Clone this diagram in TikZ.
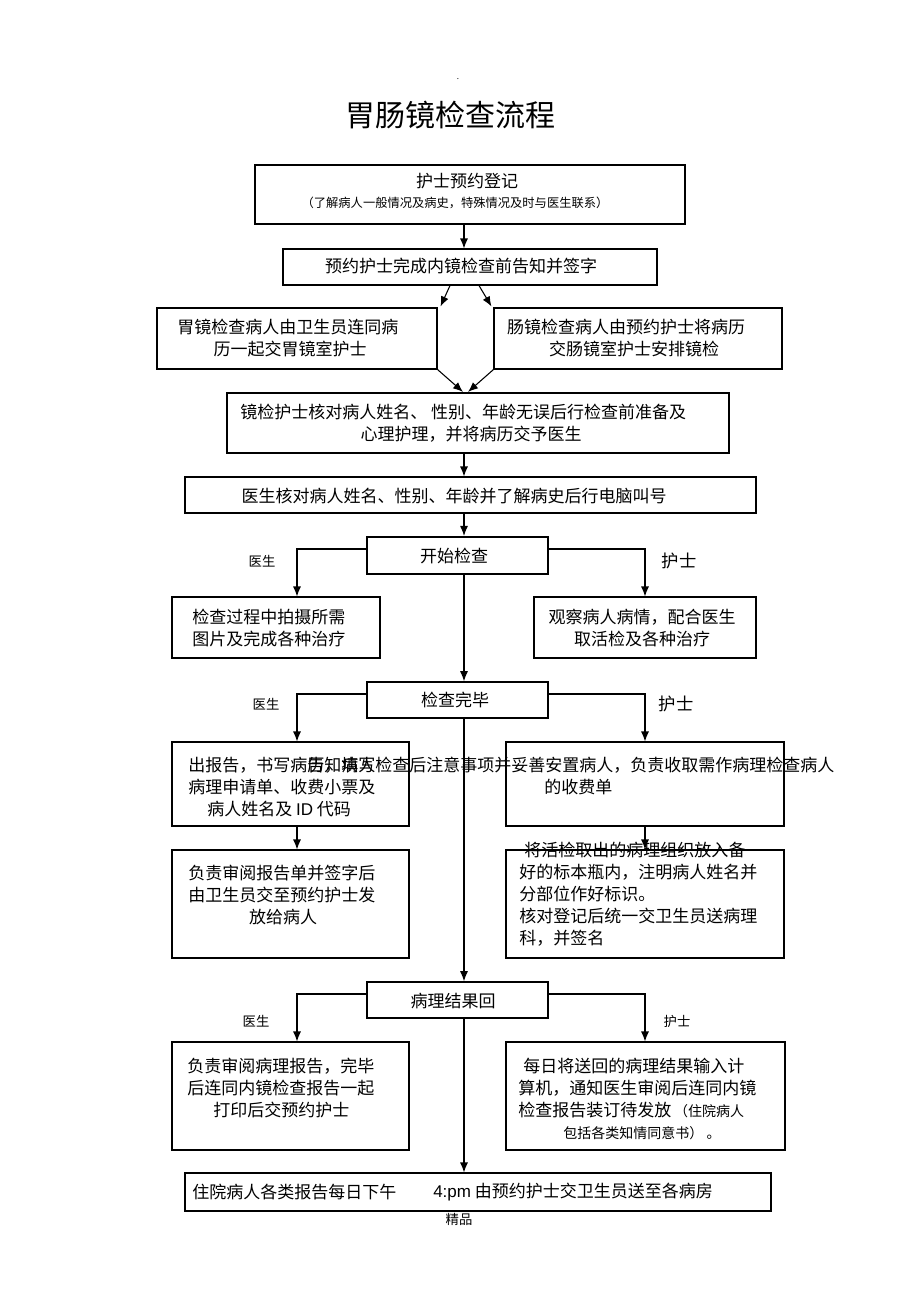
\documentclass[tikz,border=0pt]{standalone}
\usepackage{fontspec}
\setmainfont{Noto Sans CJK SC}
\newfontfamily\latf{Liberation Sans}
\usetikzlibrary{arrows.meta,fit,calc}
\begin{document}
\begin{tikzpicture}[x=0.75pt,y=-0.75pt,
  box/.style={draw=black, line width=0.8pt, inner sep=0pt},
  tbox/.style={draw=black, line width=1.6pt, inner sep=0pt},
  tx/.style={font=\fontsize{12.75}{15}\selectfont, inner sep=0pt},
  txl/.style={tx, anchor=west},
  sm/.style={font=\fontsize{9.2}{11}\selectfont, inner sep=0pt},
  smm/.style={font=\fontsize{10.5}{12}\selectfont, inner sep=0pt},
  lab/.style={font=\fontsize{10}{12}\selectfont, inner sep=0pt},
  labb/.style={font=\fontsize{13}{15}\selectfont, inner sep=0pt},
  arr/.style={-{Latex[length=7.5pt,width=6pt]}, line width=0.8pt},
  ln/.style={line width=0.8pt}]
\fill[white] (0,0) rectangle (920,1303);
\useasboundingbox (0,0) rectangle (920,1303);
% guide coordinates
\coordinate (cx) at (464,0);
\coordinate (lx) at (297,0);
\coordinate (rx) at (645,0);
\coordinate (g1) at (450,0);
\coordinate (g2) at (479,0);
\coordinate (h1) at (463,0);
\coordinate (h2) at (468,0);
% title
\node[font=\fontsize{6}{7}\selectfont, inner sep=0pt] (dot) at (458,79) {.};
\node[font=\fontsize{22.5}{26}\selectfont, inner sep=0pt] (title) at (450,115) {胃肠镜检查流程};
% box 1
\node[box, fit={(255,165) (685,224)}] (b1) {};
\node[tx] (t1a) at (467,181) {护士预约登记};
\node[sm] (t1b) at (455,203) {（了解病人一般情况及病史，特殊情况及时与医生联系）};
% box 2
\node[box, fit={(283,249) (657,285)}] (b2) {};
\node[tx] (t2) at (461,266) {预约护士完成内镜检查前告知并签字};
% box 3
\node[box, fit={(157,308) (437,369)}] (b3a) {};
\node[txl] (t3a1) at (177,327) {胃镜检查病人由卫生员连同病};
\node[tx] (t3a2) at (290,349) {历一起交胃镜室护士};
\node[box, fit={(494,308) (782,369)}] (b3b) {};
\node[tx] (t3b1) at (626,327) {肠镜检查病人由预约护士将病历};
\node[tx] (t3b2) at (634,349) {交肠镜室护士安排镜检};
% box 4
\node[tbox, fit={(227,393) (729,453)}] (b4) {};
\node[txl] (t4a) at (240,412) {镜检护士核对病人姓名、\ 性别、年龄无误后行检查前准备及};
\node[tx] (t4b) at (471,434) {心理护理，并将病历交予医生};
% box 5
\node[box, fit={(185,477) (756,513)}] (b5) {};
\node[tx] (t5) at (454,496) {医生核对病人姓名、性别、年龄并了解病史后行电脑叫号};
% box 6
\node[tbox, fit={(367,537) (548,574)}] (b6) {};
\node[tx] (t6) at (454,556) {开始检查};
\node[lab] (l6a) at (262,561) {医生};
\node[labb] (l6b) at (679,561) {护士};
% box 7
\node[box, fit={(172,597) (380,658)}] (b7a) {};
\node[txl] (t7a1) at (192,617) {检查过程中拍摄所需};
\node[txl] (t7a2) at (192,639) {图片及完成各种治疗};
\node[box, fit={(534,597) (756,658)}] (b7b) {};
\node[tx] (t7b1) at (642,617) {观察病人病情，配合医生};
\node[tx] (t7b2) at (642,639) {取活检及各种治疗};
% box 8
\node[box, line width=1.2pt, fit={(367,682) (548,718)}] (b8) {};
\node[tx] (t8) at (455,700) {检查完毕};
\node[lab] (l8a) at (266,704) {医生};
\node[labb] (l8b) at (676,704) {护士};
% box 9
\node[box, fit={(172,742) (409,826)}] (b9a) {};
\node[box, fit={(506,742) (784,826)}] (b9b) {};
\node[txl] (t9a1) at (188,765) {出报告，书写病历，填写};
\node[txl] (t9a2) at (188,787) {病理申请单、收费小票及};
\node[txl] (t9a3) at (207,809) {病人姓名及 {\latf ID} 代码};
\node[txl] (t9b1) at (307,765) {告知病人检查后注意事项并妥善安置病人，负责收取需作病理检查病人};
\node[txl] (t9b2) at (544,787) {的收费单};
% box 10
\node[box, fit={(172,850) (409,958)}] (b10a) {};
\node[txl] (t10a1) at (188,873) {负责审阅报告单并签字后};
\node[txl] (t10a2) at (188,895) {由卫生员交至预约护士发};
\node[tx] (t10a3) at (283,917) {放给病人};
\node[box, fit={(506,850) (784,958)}] (b10b) {};
\node[txl] (t10b1) at (524,850) {将活检取出的病理组织放入备};
\node[txl] (t10b2) at (519,872) {好的标本瓶内，注明病人姓名并};
\node[txl] (t10b3) at (519,894) {分部位作好标识。};
\node[txl] (t10b4) at (519,916) {核对登记后统一交卫生员送病理};
\node[txl] (t10b5) at (519,938) {科，并签名};
% box 11
\node[box, line width=1.2pt, fit={(367,982) (548,1018)}] (b11) {};
\node[tx] (t11) at (453,1001) {病理结果回};
\node[lab] (l11a) at (256,1021) {医生};
\node[lab] (l11b) at (677,1021) {护士};
% box 12
\node[box, fit={(172,1042) (409,1150)}] (b12a) {};
\node[txl] (t12a1) at (187,1066) {负责审阅病理报告，完毕};
\node[txl] (t12a2) at (187,1088) {后连同内镜检查报告一起};
\node[txl] (t12a3) at (213,1110) {打印后交预约护士};
\node[box, fit={(506,1042) (785,1150)}] (b12b) {};
\node[txl] (t12b1) at (523,1066) {每日将送回的病理结果输入计};
\node[txl] (t12b2) at (518,1088) {算机，通知医生审阅后连同内镜};
\node[txl] (t12b3) at (518,1110) {检查报告装订待发放\,{\fontsize{10.5}{12}\selectfont （住院病人}};
\node[smm] (t12b4) at (642,1133) {包括各类知情同意书）\ 。};
% box 13
\node[box, fit={(185,1173) (771,1211)}] (b13) {};
\node[txl] (t13a) at (192,1192) {住院病人各类报告每日下午};
\node[txl] (t13b) at (433,1192) {{\latf 4:pm} 由预约护士交卫生员送至各病房};
\node[lab] (foot) at (459,1219) {精品};
% connectors
\draw[arr] (b1.south -| cx) -- (b2.north -| cx);
\draw[arr] (b2.south -| g1) -- ($(b3a.north east)+(3,-1)$);
\draw[arr] (b2.south -| g2) -- ($(b3b.north west)+(-2,-1)$);
\draw[arr] (b3a.south east) -- (b4.north -| h1);
\draw[arr] (b3b.south west) -- (b4.north -| h2);
\draw[arr] (b4.south -| cx) -- (b5.north -| cx);
\draw[arr] (b5.south -| cx) -- (b6.north -| cx);
\draw[arr] (b6.south -| cx) -- (b8.north -| cx);
\draw[arr] (b8.south -| cx) -- (b11.north -| cx);
\draw[arr] (b11.south -| cx) -- (b13.north -| cx);
% branches
\coordinate (y6) at (0,549);
\coordinate (y8) at (0,694);
\coordinate (y11) at (0,994);
\draw[arr] (b6.west |- y6) -| (b7a.north -| lx);
\draw[arr] (b6.east |- y6) -| (b7b.north -| rx);
\draw[arr] (b8.west |- y8) -| (b9a.north -| lx);
\draw[arr] (b8.east |- y8) -| (b9b.north -| rx);
\draw[arr] (b9a.south -| lx) -- (b10a.north -| lx);
\draw[arr] (b9b.south -| rx) -- (b10b.north -| rx);
\draw[arr] (b11.west |- y11) -| (b12a.north -| lx);
\draw[arr] (b11.east |- y11) -| (b12b.north -| rx);
\end{tikzpicture}
\end{document}
